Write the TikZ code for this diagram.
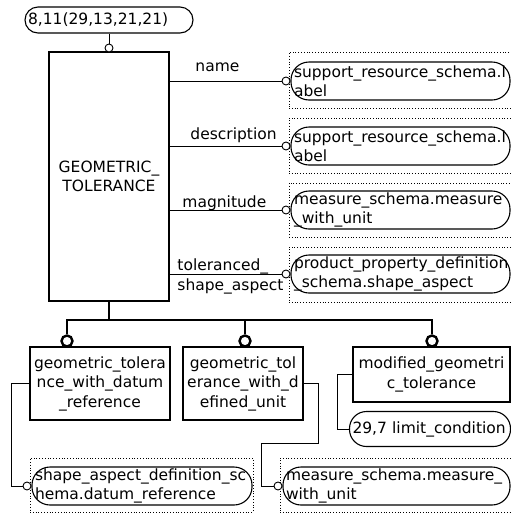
\documentclass[tikz,border=0pt]{standalone}
\usepackage{fontspec}
\setmainfont{DejaVu Sans}
\usetikzlibrary{positioning, calc}
\tikzset{
  every picture/.style={font=\fontsize{15.5}{19.5}\selectfont, line width=0.9pt},
  ent/.style={draw, rectangle, align=center, inner sep=0pt, line width=1.1pt},
  oval/.style={draw, rounded corners=#1, inner xsep=3pt, inner ysep=0pt, align=left, line width=1.1pt},
  oval/.default=18pt,
  refbox/.style={draw, dotted, inner sep=0pt, line width=0.8pt},
  ring/.style={draw, circle, fill=white, inner sep=0pt, minimum size=8pt, line width=0.9pt},
  bigring/.style={draw, circle, fill=white, inner sep=0pt, minimum size=11pt, line width=2.4pt},
  rel/.style={line width=0.9pt},
  isa/.style={line width=2.6pt},
  role/.style={anchor=base west, inner sep=0pt},
}

\begin{document}
\begin{tikzpicture}[x=1pt, y=-1pt]
  \useasboundingbox (0,0) rectangle (511,515);
  % entity
  \node[oval=13pt, minimum width=168pt, minimum height=26pt, text width=162pt] (src) at (109,20) {8,11(29,13,21,21)};
  \node[ent, minimum width=120pt, minimum height=249pt] (gt) at (109,176.5) {GEOMETRIC\_\\TOLERANCE};
  \node[ring] (gtr) at (109,48) {};
  \draw[rel] (src) -- (gtr);
  % attributes
  \node[refbox, minimum width=222pt, minimum height=56pt] (f1) at (400,80) {};
  \node[refbox, minimum width=222pt, minimum height=55pt] (f2) at (400,145.5) {};
  \node[refbox, minimum width=222pt, minimum height=54pt] (f3) at (400,210) {};
  \node[refbox, minimum width=222pt, minimum height=55pt] (f4) at (400,274.5) {};
  \node[oval, minimum width=219pt, minimum height=38pt, text width=213pt] (a1) at (400.5,81) {support\_resource\_schema.l\\abel};
  \node[oval, minimum width=219pt, minimum height=38pt, text width=213pt] (a2) at (400.5,146) {support\_resource\_schema.l\\abel};
  \node[oval, minimum width=219pt, minimum height=38pt, text width=213pt] (a3) at (400.5,210) {measure\_schema.measure\\\_with\_unit};
  \node[oval, minimum width=219pt, minimum height=38pt, text width=213pt] (a4) at (400.5,274) {product\_property\_definition\\\_schema.shape\_aspect};
  \node[ring, left=0pt of a1] (r1) {};
  \node[ring, left=0pt of a2] (r2) {};
  \node[ring, left=0pt of a3] (r3) {};
  \node[ring, left=0pt of a4] (r4) {};
  \draw[rel] (r1.west -| gt.east) -- (r1.west);
  \draw[rel] (r2.west -| gt.east) -- (r2.west);
  \draw[rel] (r3.west -| gt.east) -- (r3.west);
  \draw[rel] (r4.west -| gt.east) -- (r4.west);
  \node[role] (l1) at (195,71) {name};
  \node[role] (l2) at (190,139) {description};
  \node[role] (l3) at (182,207) {magnitude};
  \node[role] (l4) at (177,270) {toleranced\_};
  \node[role] (l5) at (177,290) {shape\_aspect};
  % subtypes
  \node[ent, minimum width=140pt, minimum height=73pt] (s1) at (100,383.5) {geometric\_tolera\\nce\_with\_datum\\\_reference};
  \node[ent, minimum width=120pt, minimum height=73pt] (s2) at (243,383.5) {geometric\_tol\\erance\_with\_d\\efined\_unit};
  \node[ent, minimum width=157pt, minimum height=55pt] (s3) at (431.5,374.5) {modified\_geometri\\c\_tolerance};
  \node[bigring] (s1r) at (67,341) {};
  \node[bigring] (s2r) at (245,341) {};
  \node[bigring] (s3r) at (432,341) {};
  \coordinate (fork) at (109,320);
  \draw[isa] (gt.south) -- (fork);
  \draw[isa] (s1r.north) |- (fork) -| (s3r.north);
  \draw[isa] (s2r.north) -- (s2r.north |- fork);
  % subtype attributes
  \node[refbox, minimum width=223pt, minimum height=54pt] (f5) at (141.5,485) {};
  \node[refbox, minimum width=231pt, minimum height=54pt] (f6) at (395.5,485) {};
  \node[oval, minimum width=220pt, minimum height=38pt, text width=214pt] (a5) at (142,486) {shape\_aspect\_definition\_sc\\hema.datum\_reference};
  \node[oval, minimum width=227pt, minimum height=38pt, text width=221pt] (a6) at (396.5,486) {measure\_schema.measure\_\\with\_unit};
  \node[oval=17pt, minimum width=161pt, minimum height=35pt, text width=155pt] (a7) at (430,429) {29,7 limit\_condition};
  \node[ring, left=0pt of a5] (r5) {};
  \node[ring, left=0pt of a6] (r6) {};
  \draw[rel] (s1.west) -- ++(-18,0) |- (r5.west);
  \draw[rel] (s2.east) -- ++(15,0) -- ++(0,60) -| ($(r6.west)+(-12,0)$) |- (r6.west);
  \draw[rel] (s3.west) -- ++(-15,0) |- (a7.west);
\end{tikzpicture}
\end{document}
